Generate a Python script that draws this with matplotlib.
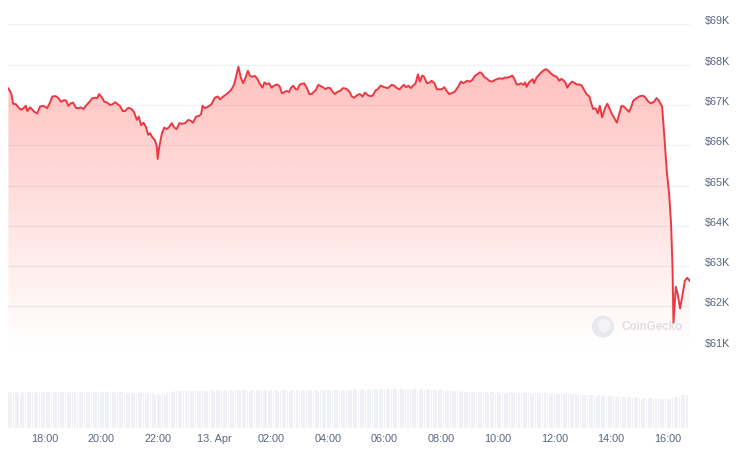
import numpy as np
import matplotlib
matplotlib.use("Agg")
import matplotlib.pyplot as plt
from matplotlib.patches import Circle, Ellipse

# ---------------- data ----------------
# price samples: minutes since 12 Apr 00:00, BTC price in USD
minutes_since_apr12 = [
    1004, 1010, 1014, 1020, 1025, 1031, 1036, 1041, 1044, 1050,
    1055, 1060, 1065, 1071, 1077, 1081, 1086, 1092, 1097, 1104,
    1110, 1115, 1122, 1126, 1131, 1136, 1141, 1147, 1152, 1157,
    1163, 1168, 1175, 1182, 1189, 1192, 1196, 1202, 1207, 1213,
    1219, 1225, 1230, 1235, 1240,
    1246, 1251, 1258, 1265, 1270, 1276, 1280, 1285, 1290, 1295,
    1300, 1304, 1309, 1314, 1318, 1320, 1323, 1329, 1334, 1339,
    1344, 1350, 1355, 1360, 1366, 1371, 1378, 1385, 1391, 1395,
    1401, 1408, 1412, 1415, 1420, 1427, 1434, 1441, 1447, 1452,
    1459, 1466, 1472, 1477, 1482,
    1491, 1496, 1501, 1506, 1511, 1515, 1520, 1526, 1531, 1537,
    1542, 1546, 1551, 1556, 1561, 1567, 1573, 1578, 1583, 1588,
    1593, 1598, 1602, 1607, 1612, 1616, 1621, 1630, 1636, 1641,
    1646, 1651, 1655, 1660, 1665, 1671, 1676, 1680, 1685, 1691,
    1695, 1700, 1706, 1713, 1720, 1726,
    1731, 1736, 1743, 1748, 1754, 1759, 1764, 1770, 1775, 1782,
    1786, 1792, 1798, 1803, 1808, 1815, 1821, 1826, 1832, 1837,
    1841, 1846, 1851, 1856, 1860, 1866, 1871, 1875, 1880, 1884,
    1890, 1894, 1900, 1906, 1911, 1916, 1921, 1927, 1932, 1937,
    1942, 1949, 1956, 1962, 1967,
    1975, 1981, 1986, 1992, 1998, 2002, 2006, 2011, 2017, 2022,
    2028, 2034, 2040, 2045, 2050, 2055, 2061, 2066, 2071, 2075,
    2080, 2085, 2089, 2094, 2098, 2101, 2106, 2110, 2114, 2117,
    2122, 2129, 2136, 2142, 2147, 2152, 2158, 2165, 2170, 2175,
    2180, 2184, 2187, 2191, 2197, 2201, 2207, 2213,
    2218, 2223, 2228, 2234, 2239, 2242, 2247, 2252, 2256, 2261,
    2267, 2272, 2276, 2281, 2287, 2292, 2297, 2302, 2307, 2313,
    2318, 2322, 2327, 2334, 2341, 2348, 2353, 2359, 2364, 2371,
    2376, 2381, 2386, 2388, 2393, 2398, 2403, 2407, 2410, 2412,
    2417, 2421, 2426, 2431, 2436, 2441, 2447,
]
prices_usd = [
    67410, 67290, 67030, 67020, 66940, 66880, 66920, 66980, 66850, 66940,
    66880, 66820, 66790, 66960, 66980, 66960, 66920, 67060, 67210, 67220,
    67170, 67080, 67120, 67110, 66980, 67040, 67060, 66930, 66920, 66940,
    66900, 66980, 67070, 67170, 67180, 67170, 67270, 67190, 67080, 67060,
    67000, 67020, 67070, 67020, 66980,
    66850, 66850, 66930, 66900, 66820, 66630, 66710, 66500, 66560, 66460,
    66260, 66300, 66190, 66130, 65990, 65660, 65930, 66300, 66440, 66400,
    66450, 66550, 66440, 66400, 66550, 66530, 66550, 66630, 66600, 66560,
    66710, 66730, 66770, 66980, 66920, 66960, 67020, 67180, 67210, 67140,
    67210, 67270, 67330, 67400, 67510,
    67950, 67680, 67540, 67680, 67850, 67730, 67700, 67720, 67650, 67510,
    67430, 67560, 67510, 67540, 67430, 67480, 67510, 67470, 67290, 67320,
    67350, 67320, 67420, 67480, 67390, 67390, 67510, 67540, 67420, 67270,
    67270, 67330, 67370, 67500, 67470, 67430, 67390, 67430, 67420, 67320,
    67270, 67320, 67350, 67420, 67400, 67330,
    67210, 67180, 67250, 67270, 67210, 67310, 67250, 67220, 67230, 67370,
    67390, 67480, 67450, 67430, 67420, 67500, 67480, 67420, 67390, 67450,
    67500, 67440, 67480, 67420, 67470, 67540, 67760, 67580, 67730, 67700,
    67540, 67550, 67600, 67540, 67390, 67390, 67390, 67440, 67350, 67270,
    67290, 67330, 67450, 67580, 67540,
    67600, 67580, 67620, 67730, 67770, 67810, 67790, 67700, 67650, 67600,
    67580, 67620, 67650, 67660, 67650, 67680, 67680, 67700, 67730, 67650,
    67510, 67510, 67540, 67500, 67560, 67450, 67560, 67600, 67640, 67540,
    67680, 67770, 67850, 67890, 67850, 67790, 67730, 67700, 67600, 67650,
    67600, 67540, 67430, 67500, 67580, 67560, 67510, 67510,
    67480, 67370, 67270, 67210, 67000, 66900, 66920, 66790, 66980, 66690,
    66920, 67030, 66930, 66790, 66670, 66560, 66770, 66980, 66960, 66890,
    66830, 66930, 67110, 67170, 67220, 67230, 67180, 67080, 67040, 67080,
    67170, 67110, 67000, 66960, 66170, 65340, 64770, 64020, 62950, 61580,
    62490, 62300, 61950, 62270, 62630, 62710, 62630,
]

# rolling 24h volume (USD billions), one bar per 5 minutes starting 16:45
volume_bn = [
    35.6, 35.2, 35.9, 35.4, 35.7, 35.1, 35.8, 35.5, 35.3, 35.9, 35.6, 35.2,
    35.7, 35.4, 35.9, 35.3, 35.6, 35.8, 35.2, 35.5, 35.9, 35.4, 35.7, 35.3,
    35.5, 35.8, 35.2, 35.6, 35.9, 35.4, 35.1, 35.7, 35.5, 35.8, 35.3, 35.6,
    35.4, 35.9, 35.6, 35.2, 35.7, 35.5, 35.3, 35.8, 35.6, 35.1, 35.4, 35.7,
    35.3, 35.6, 34.8, 35.2, 34.5, 35.0, 34.2, 34.9, 35.3, 34.6, 34.1, 34.7,
    33.6, 34.3, 32.9, 33.8, 33.2, 34.5, 33.0, 35.1, 35.8, 36.2, 36.6, 36.3,
    36.8, 36.4, 37.0, 36.6, 36.9, 36.3, 37.1, 36.7, 36.5, 37.0, 36.8, 36.4,
    37.2, 36.9, 37.4, 37.0, 37.3, 36.8, 37.5, 37.1, 37.3, 36.9, 37.4, 37.2,
    37.6, 37.3, 37.8, 37.4, 37.7, 37.2, 37.9, 37.5, 37.3, 37.8, 37.6, 37.4,
    37.7, 37.4, 37.9, 37.5, 37.3, 37.8, 37.6, 37.2, 37.7, 37.5, 37.9, 37.4,
    37.6, 37.8, 37.3, 37.7, 37.5, 37.9, 37.4, 37.6, 37.8, 37.3, 37.7, 37.5,
    37.8, 37.5, 37.9, 37.6, 37.4, 37.8, 37.7, 37.5, 38.0, 37.6, 37.8, 37.9,
    38.2, 37.9, 38.4, 38.0, 38.3, 38.1, 38.5, 38.2, 38.0, 38.4, 38.6, 38.3,
    38.7, 38.4, 38.9, 38.5, 38.8, 38.3, 39.0, 38.6, 38.9, 38.4, 38.7, 38.5,
    38.8, 38.5, 38.9, 38.3, 38.6, 38.8, 38.2, 38.5, 38.7, 38.1, 38.4, 38.2,
    38.0, 37.6, 37.9, 37.3, 37.7, 37.2, 37.0, 37.4, 36.8, 36.9, 36.5, 36.3,
    36.0, 35.7, 36.1, 35.5, 35.8, 35.4, 35.9, 35.6, 35.3, 35.7, 35.5, 35.2,
    35.6, 35.3, 35.0, 35.4, 35.1, 35.5, 34.9, 35.2, 35.4, 34.8, 35.1, 34.9,
    35.0, 34.6, 34.9, 34.4, 34.8, 34.5, 34.2, 34.7, 34.4, 34.6, 34.1, 34.5,
    34.3, 34.0, 34.4, 33.8, 34.2, 33.9, 34.1, 33.6, 34.0, 33.7, 33.9, 33.4,
    33.6, 33.1, 33.4, 32.8, 33.2, 32.6, 32.9, 32.4, 32.7, 32.2, 32.5, 32.0,
    32.1, 31.6, 31.9, 31.3, 31.7, 31.0, 31.4, 30.9, 31.2, 30.7, 31.0, 30.5,
    30.6, 30.1, 30.4, 29.8, 30.2, 29.6, 29.9, 29.4, 29.7, 29.2, 29.5, 29.0,
    28.8, 28.5, 28.9, 28.4, 29.2, 29.8, 30.5, 31.2, 31.8, 32.3, 32.7, 33.0,
]
volume_start_minute = 1005
volume_step_minutes = 5

y_ticks = [61000, 62000, 63000, 64000, 65000, 66000, 67000, 68000, 69000]
y_labels = ["$61K", "$62K", "$63K", "$64K", "$65K", "$66K", "$67K", "$68K", "$69K"]
x_tick_minutes = [1080, 1200, 1320, 1440, 1560, 1680, 1800, 1920, 2040, 2160, 2280, 2400]
x_labels = ["18:00", "20:00", "22:00", "13. Apr", "02:00", "04:00", "06:00",
            "08:00", "10:00", "12:00", "14:00", "16:00"]

# ---------------- style ----------------
W, H = 743, 459
LINE = "#ea3943"
TXT = "#58667e"
GRID = "#eff2f5"
BAR = "#f0f1f4"
FONT = "Liberation Sans"

t = np.array(minutes_since_apr12, dtype=float)
p = np.array(prices_usd, dtype=float)
x0, x1 = t[0], t[-1]

fig = plt.figure(figsize=(W / 100, H / 100), dpi=100)
fig.patch.set_facecolor("white")

# main price axes (pixel-based placement)
left_px, right_px = 8.4, 690.0
top_px, bot_px = 24.4, 346.7
ax = fig.add_axes([left_px / W, 1 - bot_px / H, (right_px - left_px) / W, (bot_px - top_px) / H])
ax.set_xlim(x0, x1)
ax.set_ylim(y_ticks[0], y_ticks[-1])
for s in ax.spines.values():
    s.set_visible(False)
ax.set_axisbelow(True)
ax.grid(axis="y", color=GRID, lw=0.9)
ax.set_xticks([])
ax.yaxis.tick_right()
ax.set_yticks(y_ticks, y_labels)
ax.tick_params(axis="y", length=0, pad=10.8, labelsize=7.8, labelcolor=TXT)
for lbl in ax.get_yticklabels():
    lbl.set_fontfamily(FONT)
    lbl.set_va("baseline")

# gradient area under the line
poly = ax.fill_between(t, p, y_ticks[0], facecolor="none", edgecolor="none")
n = 256
grad = np.zeros((n, 1, 4))
grad[:, 0, 0] = 255 / 255
grad[:, 0, 1] = 58 / 255
grad[:, 0, 2] = 51 / 255
grad[:, 0, 3] = np.linspace(0.36, 0.0, n)
im = ax.imshow(grad, extent=[x0, x1, y_ticks[0], y_ticks[-1]], origin="upper",
               aspect="auto", interpolation="bilinear", zorder=1)
im.set_clip_path(poly.get_paths()[0], transform=ax.transData)

ax.plot(t, p, color=LINE, lw=1.4, zorder=3, solid_joinstyle="round")

# volume axes
vb_px, vt_px = 427.7, 387.7
axv = fig.add_axes([left_px / W, 1 - vb_px / H, (right_px - left_px) / W, (vb_px - vt_px) / H])
vt = volume_start_minute + volume_step_minutes * np.arange(len(volume_bn))
axv.bar(vt, volume_bn, width=volume_step_minutes * 0.72, color=BAR, linewidth=0, align="center")
axv.set_xlim(x0, x1)
axv.set_ylim(0, 40)
for s in axv.spines.values():
    s.set_visible(False)
axv.set_yticks([])
axv.set_xticks(x_tick_minutes, x_labels)
axv.tick_params(axis="x", length=0, pad=4.8, labelsize=7.8, labelcolor=TXT)
for lbl in axv.get_xticklabels():
    lbl.set_fontfamily(FONT)

# CoinGecko watermark
cx, cy = 603, H - 326.7
fig.add_artist(Circle((cx, cy), 11, transform=None, facecolor="#e3e5e9", edgecolor="none", alpha=0.8, zorder=0.5))
fig.add_artist(Ellipse((cx + 1, cy + 1), 12, 14, transform=None, facecolor="#f4f5f7", edgecolor="none", alpha=0.9, zorder=0.6))
fig.text(621 / W, 1 - 327 / H, "CoinGecko", fontsize=8.3, fontweight="bold", color="#dcdfe3",
         family=FONT, va="center", ha="left", zorder=0.7)

fig.savefig("out.png", dpi=100, facecolor="white")
